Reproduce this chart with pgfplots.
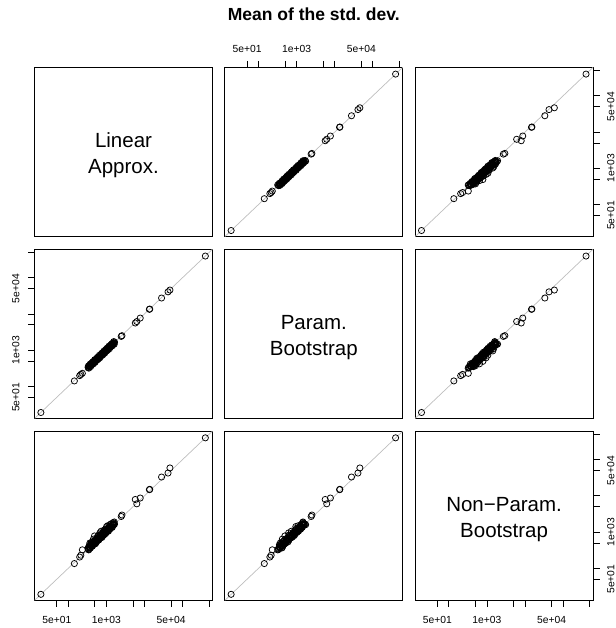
\documentclass[border=0pt]{standalone}
\usepackage{fontspec}
\setmainfont{Liberation Sans}
\usepackage{pgfplots}
\usepackage{pgfplotstable}
\pgfplotsset{compat=1.18}

% Mean of the estimated standard deviations, one row per data set:
% linear approximation, parametric bootstrap, non-parametric bootstrap
\pgfplotstableread{
la      pb      npb
19.1    19.0    19.1
144.5   141.3   134.9
199.5   198     204.2
213.8   214     229.1
234.4   229     323.6
331     334     348
336     363     370
340     337     330
346     318     322
352     359     394
357     375     428
361     356     368
366     348     381
370     372     500
376     414     365
382     380     363
387     352     445
391     397     422
397     409     508
402     394     474
408     396     408
414     414     414
420     449     454
425     436     408
431     405     409
437     441     546
443     478     496
449     445     476
456     420     638
462     471     508
468     491     477
474     467     465
481     457     568
488     490     781
495     545     545
501     498     521
508     462     472
515     523     587
523     539     628
530     519     498
538     522     560
546     546     584
554     593     537
561     575     684
569     535     654
577     583     583
586     633     750
594     588     647
603     555     603
612     624     594
621     652     671
630     621     819
639     607     607
648     651     680
658     724     737
667     664     774
677     616     948
687     697     680
697     718     711
707     693     785
718     696     847
728     728     1056
739     791     813
749     768     771
760     714     707
771     779     732
782     845     938
793     785     896
805     741     837
816     832     979
828     869     803
840     827     857
853     810     981
865     869     934
878     966     1124
890     886     854
903     822     903
916     930     1163
930     958     1004
943     924     1000
957     928     909
971     971     1117
985     1054    1103
999     1024    979
1014    953     1420
1028    1038    1131
1043    1126    1064
1058    1047    1100
1074    988     1267
1090    1112    1504
1106    1161    1217
1121    1104    1087
1138    1081    1058
1154    1160    1292
1171    1288    1405
1188    1182    1247
1206    1097    1254
1223    1241    1455
1241    1278    1204
1259    1234    1246
1278    1240    1470
1296    1296    1387
1315    1407    1683
1334    1367    1654
1354    1273    1354
1373    1387    1400
1394    1506    1506
1414    1400    1343
1435    1320    1363
1455    1484    1586
1477    1551    1654
1498    1476    1708
1520    1444    1824
1542    1550    1588
1565    1722    1596
1587    1579    1682
1612    1467    1902
1640    1665    1656
2455    2399    2692
2570    2512    2951
5754    5623    7943
6310    6166    6026
7762    7700    8710
13490   13400   14790
13800   13650   15140
28180   27540   33110
41690   40740   42660
46770   45710   58880
398100  397000  400000
}\sdtab

\definecolor{refgray}{RGB}{190,190,190}

\pgfplotsset{
  sdpanel/.style={
    scale only axis, width=178pt, height=169.3pt,
    xmin=12.97, xmax=613800, ymin=12.97, ymax=613800,
    axis line style={line width=0.9pt},
    xtick=\empty, ytick=\empty,
    xminorticks=false, yminorticks=false,
    anchor=south west,
    tick align=outside,
    major tick length=6.5pt,
    every tick/.style={black, line width=0.8pt},
    tick label style={font=\fontsize{10.3}{12}\selectfont, inner sep=0pt},
  },
  sdxbottom/.style={
    xtick={50,100,500,1000,5000,10000,50000,100000,500000},
    xticklabels={5e+01,,,1e+03,,,5e+04,,},
    xtick pos=left, xticklabel pos=left,
    xticklabel style={anchor=north}, xticklabel shift=9pt},
  sdxtop/.style={
    xtick={50,100,500,1000,5000,10000,50000,100000,500000},
    xticklabels={5e+01,,,1e+03,,,5e+04,,},
    xtick pos=right, xticklabel pos=right,
    xticklabel style={anchor=south}, xticklabel shift=7.7pt},
  sdyleft/.style={
    ytick={50,100,500,1000,5000,10000,50000,100000,500000},
    yticklabels={5e+01,,,1e+03,,,5e+04,,},
    ytick pos=left, yticklabel pos=left,
    yticklabel style={rotate=90, anchor=south}, yticklabel shift=8.3pt},
  sdyright/.style={
    ytick={50,100,500,1000,5000,10000,50000,100000,500000},
    yticklabels={5e+01,,,1e+03,,,5e+04,,},
    ytick pos=right, yticklabel pos=right,
    yticklabel style={rotate=90, anchor=north}, yticklabel shift=7.4pt},
  sdpts/.style={only marks, mark=o, mark size=3.1pt,
    mark options={line width=0.75pt, draw=black, fill=none}},
  sddiag/.style={refgray, line width=0.7pt},
}

\newcommand{\panellabel}[2]{%
  \node[anchor=base, font=\fontsize{20.5}{24}\selectfont] at (axis description cs:0.5,0.5275) {#1};
  \node[anchor=base, font=\fontsize{20.5}{24}\selectfont] at (axis description cs:0.5,0.374) {#2};
}

\begin{document}
\begin{tikzpicture}
\path[use as bounding box] (0pt,0pt) rectangle (615pt,628pt);
\node[anchor=base, font=\bfseries\fontsize{17.5}{20}\selectfont] at (313.8pt,607.5pt) {Mean of the std.\ dev.};

% row 1
\begin{loglogaxis}[sdpanel, at={(34.5pt,391.4pt)}]
  \panellabel{Linear}{Approx.}
\end{loglogaxis}
\begin{loglogaxis}[sdpanel, sdxtop, at={(224.8pt,391.4pt)}]
  \addplot[sdpts] table[x=pb, y=la] {\sdtab};
  \addplot[sddiag] coordinates {(12.97,12.97) (613800,613800)};
\end{loglogaxis}
\begin{loglogaxis}[sdpanel, sdyright, at={(415.1pt,391.4pt)}]
  \addplot[sdpts] table[x=npb, y=la] {\sdtab};
  \addplot[sddiag] coordinates {(12.97,12.97) (613800,613800)};
\end{loglogaxis}

% row 2
\begin{loglogaxis}[sdpanel, sdyleft, at={(34.5pt,209.5pt)}]
  \addplot[sdpts] table[x=la, y=pb] {\sdtab};
  \addplot[sddiag] coordinates {(12.97,12.97) (613800,613800)};
\end{loglogaxis}
\begin{loglogaxis}[sdpanel, at={(224.8pt,209.5pt)}]
  \panellabel{Param.}{Bootstrap}
\end{loglogaxis}
\begin{loglogaxis}[sdpanel, at={(415.1pt,209.5pt)}]
  \addplot[sdpts] table[x=npb, y=pb] {\sdtab};
  \addplot[sddiag] coordinates {(12.97,12.97) (613800,613800)};
\end{loglogaxis}

% row 3
\begin{loglogaxis}[sdpanel, sdxbottom, at={(34.5pt,27.6pt)}]
  \addplot[sdpts] table[x=la, y=npb] {\sdtab};
  \addplot[sddiag] coordinates {(12.97,12.97) (613800,613800)};
\end{loglogaxis}
\begin{loglogaxis}[sdpanel, at={(224.8pt,27.6pt)}]
  \addplot[sdpts] table[x=pb, y=npb] {\sdtab};
  \addplot[sddiag] coordinates {(12.97,12.97) (613800,613800)};
\end{loglogaxis}
\begin{loglogaxis}[sdpanel, sdxbottom, sdyright, at={(415.1pt,27.6pt)}]
  \panellabel{Non−Param.}{Bootstrap}
\end{loglogaxis}
\end{tikzpicture}
\end{document}
